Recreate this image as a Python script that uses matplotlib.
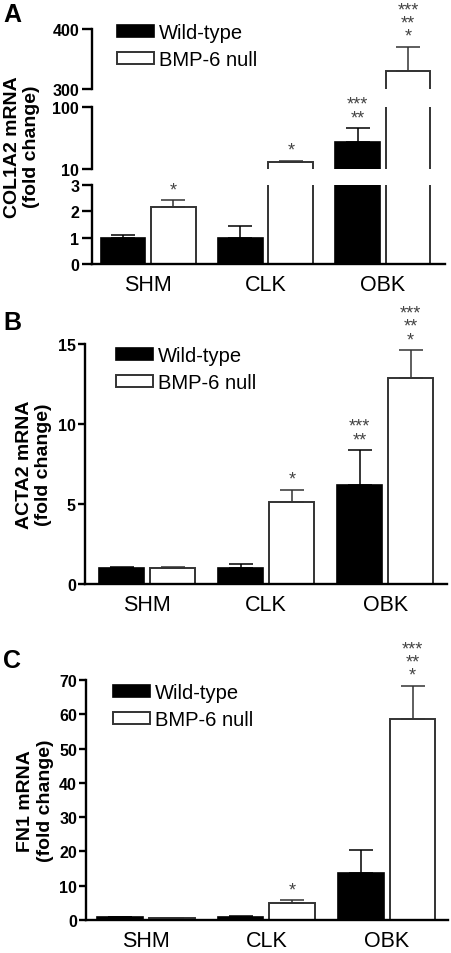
import matplotlib

matplotlib.use("Agg")
import matplotlib.pyplot as plt
import numpy as np
from matplotlib.patches import Patch

plt.rcParams["font.family"] = ["Liberation Sans", "DejaVu Sans"]

W, H = 451, 954

groups = ["SHM", "CLK", "OBK"]
series_names = ["Wild-type", "BMP-6 null"]

# A: COL1A2 (segmented axis 0-3 / 10-100 / 300-400)
col1a2_wt = [1.0, 1.0, 49.0]
col1a2_wt_err = [0.11, 0.45, 20.0]
col1a2_bmp = [2.15, 20.0, 330.0]
col1a2_bmp_err = [0.27, 1.5, 40.0]
col1a2_wt_sig = ["", "", "***\n**"]
col1a2_bmp_sig = ["*", "*", "***\n**\n*"]
col1a2_segments = [(0, 3), (10, 100), (300, 400)]
col1a2_ticks = [[0, 1, 2, 3], [10, 100], [300, 400]]

# B: ACTA2
acta2_wt = [1.0, 1.0, 6.2]
acta2_wt_err = [0.05, 0.27, 2.15]
acta2_bmp = [1.03, 5.1, 12.9]
acta2_bmp_err = [0.05, 0.8, 1.7]
acta2_wt_sig = ["", "", "***\n**"]
acta2_bmp_sig = ["", "*", "***\n**\n*"]
acta2_ticks = [0, 5, 10, 15]

# C: FN1
fn1_wt = [0.9, 1.0, 13.7]
fn1_wt_err = [0.1, 0.3, 6.7]
fn1_bmp = [0.6, 5.0, 58.5]
fn1_bmp_err = [0.1, 0.7, 9.8]
fn1_wt_sig = ["", "", ""]
fn1_bmp_sig = ["", "*", "***\n**\n*"]
fn1_ticks = [0, 10, 20, 30, 40, 50, 60, 70]

BAR_W = 0.38
OFF = 0.215
EDGE = "#333333"
LW = 1.7


def px_axes(fig, x0, x1, y0, y1):
    return fig.add_axes([x0 / W, 1 - y1 / H, (x1 - x0) / W, (y1 - y0) / H])


def style_axes(ax, ticklen, show_bottom=True):
    for s in ("top", "right"):
        ax.spines[s].set_visible(False)
    ax.spines["left"].set_linewidth(LW)
    ax.spines["bottom"].set_linewidth(LW)
    ax.spines["bottom"].set_visible(show_bottom)
    ax.tick_params(axis="y", length=ticklen, width=LW, labelsize=11.5, pad=1.5)
    for lab in ax.get_yticklabels():
        lab.set_fontweight("bold")
    ax.tick_params(axis="x", length=0, labelsize=15.5, pad=7)
    if not show_bottom:
        ax.tick_params(axis="x", labelbottom=False)


def draw_bars(ax, wt, wt_err, bmp, bmp_err, xlim):
    x = np.arange(len(groups))
    ax.bar(x - OFF, wt, BAR_W, color="black", edgecolor="black", linewidth=1.2)
    ax.bar(x + OFF, bmp, BAR_W, color="white", edgecolor=EDGE, linewidth=1.4)
    ax.errorbar(x - OFF, wt, yerr=[np.zeros(len(wt)), wt_err], fmt="none",
                ecolor="black", elinewidth=1.1, capsize=8.5, capthick=1.1)
    ax.errorbar(x + OFF, bmp, yerr=[np.zeros(len(bmp)), bmp_err], fmt="none",
                ecolor=EDGE, elinewidth=1.1, capsize=8.5, capthick=1.1)
    ax.set_xlim(*xlim)
    ax.set_xticks(x, groups)


def draw_stars(axes, vals, errs, sigs, shift):
    for i, (v, e, s) in enumerate(zip(vals, errs, sigs)):
        if not s:
            continue
        top = v + e
        ax = axes[0]
        for a in axes:
            lo, hi = a.get_ylim()
            if lo <= top <= hi:
                ax = a
        ax.annotate(s, xy=(i + shift, top), xytext=(0, 1.5), textcoords="offset points",
                    ha="center", va="bottom", multialignment="center",
                    fontsize=13, color="#444444", linespacing=0.72,
                    annotation_clip=False)


def add_legend(ax, fig, x, y):
    handles = [Patch(facecolor="black", edgecolor="black", linewidth=1.2),
               Patch(facecolor="white", edgecolor=EDGE, linewidth=1.4)]
    ax.legend(handles, series_names, loc="upper left",
              bbox_to_anchor=(x / W, 1 - y / H), bbox_transform=fig.transFigure,
              frameon=False, fontsize=14.5, handlelength=1.85, handleheight=0.6,
              handletextpad=0.25, labelspacing=0.4, borderpad=0, borderaxespad=0)


fig = plt.figure(figsize=(W / 100, H / 100), dpi=100, facecolor="white")

# ---- Panel A: segmented axis ----
seg_px = [(186, 265), (108, 169.5), (30, 90)]
axes_a = []
for k, ((lo, hi), (y0, y1), ticks) in enumerate(zip(col1a2_segments, seg_px, col1a2_ticks)):
    ax = px_axes(fig, 91.7, 445, y0, y1)
    draw_bars(ax, col1a2_wt, col1a2_wt_err, col1a2_bmp, col1a2_bmp_err, (-0.482, 2.53))
    ax.set_ylim(lo, hi)
    ax.set_yticks(ticks)
    style_axes(ax, 7.5, show_bottom=(k == 0))
    axes_a.append(ax)
draw_stars(axes_a, col1a2_wt, col1a2_wt_err, col1a2_wt_sig, -OFF)
draw_stars(axes_a, col1a2_bmp, col1a2_bmp_err, col1a2_bmp_sig, OFF)
add_legend(axes_a[2], fig, 117, 24)
fig.text(22 / W, 1 - 147 / H, "COL1A2 mRNA\n(fold change)", rotation=90, ha="center",
         va="center", multialignment="center", fontsize=14, fontweight="bold")
fig.text(3 / W, 1 - 22 / H, "A", fontsize=18, fontweight="bold", va="baseline")

# ---- Panel B ----
ax_b = px_axes(fig, 85, 447, 345, 585)
draw_bars(ax_b, acta2_wt, acta2_wt_err, acta2_bmp, acta2_bmp_err, (-0.523, 2.52))
ax_b.set_ylim(0, 15)
ax_b.set_yticks(acta2_ticks)
style_axes(ax_b, 5)
draw_stars([ax_b], acta2_wt, acta2_wt_err, acta2_wt_sig, -OFF)
draw_stars([ax_b], acta2_bmp, acta2_bmp_err, acta2_bmp_sig, OFF)
add_legend(ax_b, fig, 116, 347)
ax_b.set_ylabel("ACTA2 mRNA\n(fold change)", fontsize=14, fontweight="bold", labelpad=4)
fig.text(3 / W, 1 - 330 / H, "B", fontsize=18, fontweight="bold", va="baseline")

# ---- Panel C ----
ax_c = px_axes(fig, 86, 448, 681, 921)
draw_bars(ax_c, fn1_wt, fn1_wt_err, fn1_bmp, fn1_bmp_err, (-0.5, 2.51))
ax_c.set_ylim(0, 70)
ax_c.set_yticks(fn1_ticks)
style_axes(ax_c, 5)
draw_stars([ax_c], fn1_wt, fn1_wt_err, fn1_wt_sig, -OFF)
draw_stars([ax_c], fn1_bmp, fn1_bmp_err, fn1_bmp_sig, OFF)
add_legend(ax_c, fig, 113, 684)
ax_c.set_ylabel("FN1 mRNA\n(fold change)", fontsize=14, fontweight="bold", labelpad=4)
fig.text(3 / W, 1 - 668 / H, "C", fontsize=18, fontweight="bold", va="baseline")

fig.savefig("out.png", dpi=100, facecolor="white")
